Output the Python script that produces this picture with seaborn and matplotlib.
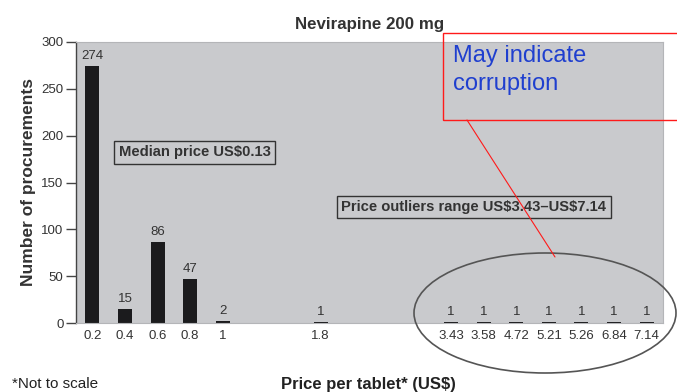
import matplotlib
matplotlib.use("Agg")
import matplotlib.pyplot as plt
import seaborn as sns
import pandas as pd
from matplotlib.patches import Ellipse, Rectangle
from matplotlib.lines import Line2D

# Procurement counts by price per tablet (US$)
prices = ["0.2", "0.4", "0.6", "0.8", "1", "1.8",
          "3.43", "3.58", "4.72", "5.21", "5.26", "6.84", "7.14"]
counts = [274, 15, 86, 47, 2, 1, 1, 1, 1, 1, 1, 1, 1]
y_ticks = [0, 50, 100, 150, 200, 250, 300]

# Axis is not to scale: empty slots separate the price groups
axis_order = (prices[:5] + ["_gap1", "_gap2"] + [prices[5]]
              + ["_gap3", "_gap4", "_gap5"] + prices[6:])

df = pd.DataFrame({"price": prices, "count": counts})

sns.set_theme(style="white")
plt.rcParams["font.family"] = ["Liberation Sans", "DejaVu Sans"]

fig = plt.figure(figsize=(6.77, 3.92), dpi=100)
ax = fig.add_axes([76 / 677, 1 - 323 / 392, 587 / 677, 281 / 392])
ax.set_facecolor("#c9cacd")

sns.barplot(data=df, x="price", y="count", order=axis_order,
            color="#1b1b1d", saturation=1, width=0.43, linewidth=0,
            ax=ax)

ax.bar_label(ax.containers[0], fmt="%d", padding=3,
             fontsize=9.5, color="#333333")

ax.set_xlim(-0.5, len(axis_order) - 0.5)
ax.set_ylim(0, 300)
ax.set_yticks(y_ticks)
ax.set_yticklabels([str(v) for v in y_ticks], fontsize=9.5, color="#333333")
ax.set_xticks(range(len(axis_order)))
ax.set_xticklabels(["" if c.startswith("_gap") else c for c in axis_order],
                   fontsize=9.5, color="#333333")
ax.tick_params(axis="x", length=0, pad=5)
ax.tick_params(axis="y", length=7, width=1, color="#444444", pad=2, left=True)

for side in ["top", "right", "bottom"]:
    ax.spines[side].set_color("#b4b5b8")
    ax.spines[side].set_linewidth(0.8)
ax.spines["left"].set_color("#444444")
ax.spines["left"].set_linewidth(1.0)

ax.set_xlabel("")
ax.set_ylabel("Number of procurements", fontsize=12.5, fontweight="bold",
              color="#333333", labelpad=4)
ax.set_title("Nevirapine 200 mg", fontsize=12.2, fontweight="bold",
             color="#333333", pad=9)

box = dict(boxstyle="square,pad=0.3", facecolor="none",
           edgecolor="#333333", linewidth=1.0)
ax.text(0.202, 0.608, r"Median price US\$0.13", transform=ax.transAxes,
        ha="center", va="center", fontsize=10.6, fontweight="bold",
        color="#333333", bbox=box)
ax.text(0.678, 0.413, "Price outliers range US\\$3.43\u2013US\\$7.14",
        transform=ax.transAxes, ha="center", va="center", fontsize=10.6,
        fontweight="bold", color="#333333", bbox=box)

fig.text(12 / 677, 1 - 384 / 392, "*Not to scale", fontsize=11,
         color="#222222", ha="left", va="center")
fig.text(368 / 677, 1 - 384 / 392, r"Price per tablet* (US\$)", fontsize=12,
         fontweight="bold", color="#222222", ha="center", va="center")

# Outlier highlight and callout
fig.add_artist(Ellipse((545 / 677, 1 - 313 / 392), 262 / 677, 120 / 392,
                       facecolor="none", edgecolor="#555555", linewidth=1.2,
                       transform=fig.transFigure))
fig.add_artist(Rectangle((443 / 677, 1 - 120 / 392), 300 / 677, 87 / 392,
                         facecolor="none", edgecolor="#ff1a1a", linewidth=1.0,
                         transform=fig.transFigure))
fig.add_artist(Line2D([467 / 677, 555 / 677], [1 - 120 / 392, 1 - 257 / 392],
                      color="#ff1a1a", linewidth=0.8,
                      transform=fig.transFigure))
fig.text(453 / 677, 1 - 62 / 392, "May indicate", fontsize=17,
         color="#1f3fcf", ha="left", va="baseline")
fig.text(453 / 677, 1 - 90 / 392, "corruption", fontsize=17,
         color="#1f3fcf", ha="left", va="baseline")

fig.savefig("out.png", dpi=100, facecolor="white")
